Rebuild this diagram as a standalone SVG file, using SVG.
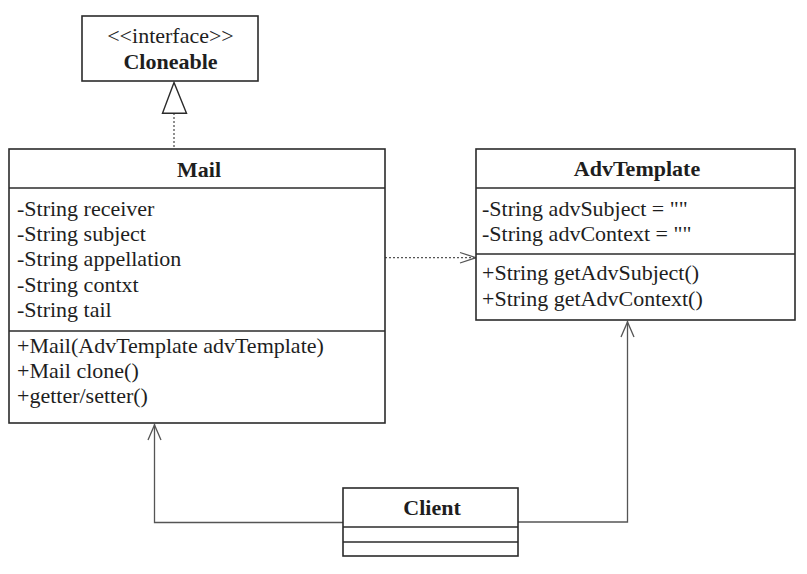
<svg xmlns="http://www.w3.org/2000/svg" width="807" height="574" viewBox="0 0 807 574">
<style>
.box{fill:#fff;stroke:#2b2b2b;stroke-width:1.6}
.div{stroke:#2b2b2b;stroke-width:1.6}
.t{font-family:"Liberation Serif","Times New Roman",serif;font-size:22px;fill:#1e1e1e}
.b{font-weight:bold;text-anchor:middle}
.c{text-anchor:middle}
.con{fill:none;stroke:#555;stroke-width:1.3}
.dot{fill:none;stroke:#555;stroke-width:1.3;stroke-dasharray:2,2}
.head{fill:none;stroke:#555;stroke-width:1.3}
</style>
<rect width="807" height="574" fill="#fff"/>
<g id="connectors">
  <line class="dot" x1="174" y1="113" x2="174" y2="149"/>
  <polygon points="174,82.5 162.5,113.3 186.5,113.3" fill="#fff" stroke="#2b2b2b" stroke-width="1.4"/>
  <line class="dot" x1="385" y1="257.7" x2="475" y2="257.7"/>
  <polyline class="head" points="460,252.5 476,257.7 460,263"/>
  <polyline class="con" points="343,522.5 154.5,522.5 154.5,424"/>
  <polyline class="head" points="148,440 154.5,425 161,440"/>
  <polyline class="con" points="518,522 627.5,522 627.5,321"/>
  <polyline class="head" points="621,337 627.5,322 634,337"/>
</g>
<g id="cloneable">
  <rect class="box" x="82" y="16" width="176" height="65"/>
  <text class="t c" x="170.5" y="42.7">&lt;&lt;interface&gt;&gt;</text>
  <text class="t b" x="170.5" y="68.5">Cloneable</text>
</g>
<g id="mail">
  <rect class="box" x="9" y="149" width="376" height="274"/>
  <line class="div" x1="9" y1="188" x2="385" y2="188"/>
  <line class="div" x1="9" y1="331" x2="385" y2="331"/>
  <text class="t b" x="199" y="176.5">Mail</text>
  <text class="t" x="17" y="216">-String receiver</text>
  <text class="t" x="17" y="241">-String subject</text>
  <text class="t" x="17" y="266">-String appellation</text>
  <text class="t" x="17" y="291.5">-String contxt</text>
  <text class="t" x="17" y="316.5">-String tail</text>
  <text class="t" x="17" y="353">+Mail(AdvTemplate advTemplate)</text>
  <text class="t" x="17" y="378">+Mail clone()</text>
  <text class="t" x="17" y="403">+getter/setter()</text>
</g>
<g id="advtemplate">
  <rect class="box" x="476" y="149" width="319" height="171"/>
  <line class="div" x1="476" y1="188" x2="795" y2="188"/>
  <line class="div" x1="476" y1="254" x2="795" y2="254"/>
  <text class="t b" x="637" y="176">AdvTemplate</text>
  <text class="t" x="482" y="216">-String advSubject = ""</text>
  <text class="t" x="482" y="241">-String advContext = ""</text>
  <text class="t" x="482" y="280">+String getAdvSubject()</text>
  <text class="t" x="482" y="305.5">+String getAdvContext()</text>
</g>
<g id="client">
  <rect class="box" x="343" y="488" width="175" height="68"/>
  <line class="div" x1="343" y1="527" x2="518" y2="527"/>
  <line class="div" x1="343" y1="542" x2="518" y2="542"/>
  <text class="t b" x="432" y="515">Client</text>
</g>
</svg>
